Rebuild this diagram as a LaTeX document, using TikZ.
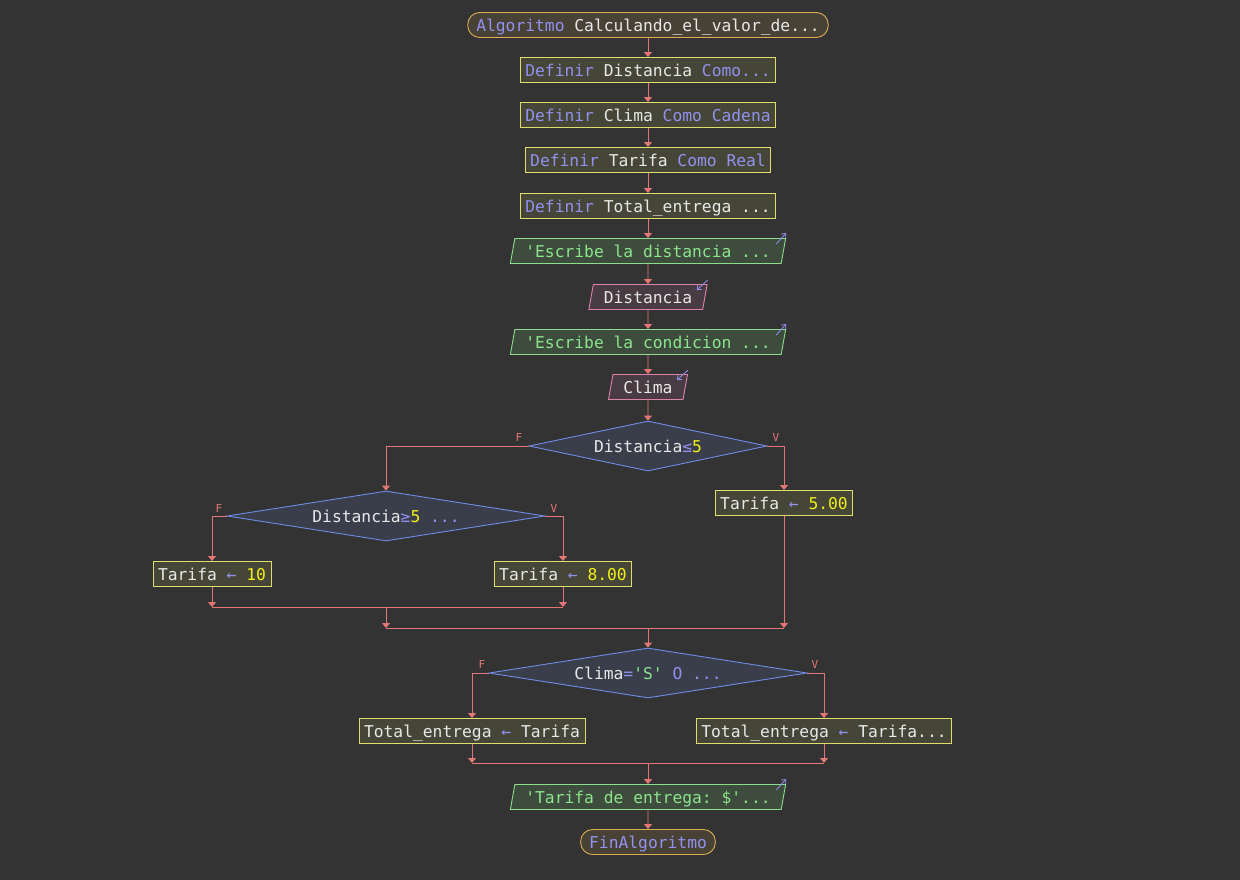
\documentclass[tikz,border=0pt]{standalone}
\usepackage{fontspec}
\setmonofont{DejaVu Sans Mono}
\usetikzlibrary{shapes.geometric,arrows.meta}

\definecolor{bgcol}{RGB}{51,51,51}
\definecolor{kwcol}{RGB}{145,145,240}
\definecolor{txtcol}{RGB}{232,232,232}
\definecolor{numcol}{RGB}{240,240,20}
\definecolor{strcol}{RGB}{140,228,140}
\definecolor{linecol}{RGB}{228,118,118}
\definecolor{procline}{RGB}{222,222,110}
\definecolor{procfill}{RGB}{70,70,56}
\definecolor{termline}{RGB}{222,172,84}
\definecolor{termfill}{RGB}{72,66,54}
\definecolor{decline}{RGB}{110,140,232}
\definecolor{decfill}{RGB}{58,62,74}
\definecolor{outline}{RGB}{140,222,140}
\definecolor{outfill}{RGB}{62,76,62}
\definecolor{inline}{RGB}{222,130,172}
\definecolor{infill}{RGB}{72,60,66}

\newcommand{\kw}[1]{\textcolor{kwcol}{#1}}
\newcommand{\num}[1]{\textcolor{numcol}{#1}}
\newcommand{\str}[1]{\textcolor{strcol}{#1}}

\tikzset{
  base/.style={line width=0.9pt, minimum height=25pt, text height=13pt, text depth=0pt},
  term/.style={base, draw=termline, fill=termfill, rounded corners=12pt, inner xsep=8.5pt, inner ysep=0pt},
  proc/.style={base, draw=procline, fill=procfill, inner xsep=5pt, inner ysep=0pt},
  outp/.style={base, trapezium, trapezium left angle=71, trapezium right angle=109,
    trapezium stretches=true, draw=outline, fill=outfill, inner xsep=10.5pt, inner ysep=0pt},
  inp/.style={outp, draw=inline, fill=infill},
  dec/.style={diamond, draw=decline, fill=decfill, line width=0.9pt, inner sep=0pt,
    shape aspect=6, minimum height=50pt},
  flow/.style={draw=linecol, line width=0.9pt, -{Triangle[width=8pt,length=5pt]}},
  mergeline/.style={draw=linecol, line width=0.9pt},
  lbl/.style={text=linecol, font=\ttfamily\fontsize{11}{13}\selectfont, inner sep=0pt},
  iconout/.style={draw=kwcol, line width=0.8pt, -{Straight Barb[length=3.5pt,width=6pt]}},
}

\begin{document}
\begin{tikzpicture}[x=1pt, y=-1pt, text=txtcol, font=\ttfamily\fontsize{16.3}{19}\selectfont]
  \fill[bgcol] (0,0) rectangle (1240,880);

  % header and definitions
  \node[term] (start) at (648,25) {\kw{Algoritmo} Calculando\_el\_valor\_de...};
  \node[proc] (def1) at (648,70) {\kw{Definir} Distancia \kw{Como...}};
  \node[proc] (def2) at (648,115) {\kw{Definir} Clima \kw{Como Cadena}};
  \node[proc] (def3) at (648,160) {\kw{Definir} Tarifa \kw{Como Real}};
  \node[proc] (def4) at (648,206) {\kw{Definir} Total\_entrega ...};

  % reading
  \node[outp] (out1) at (648,251) {\str{\textquotesingle Escribe la distancia ...}};
  \node[inp] (in1) at (648,297) {Distancia};
  \node[outp] (out2) at (648,342) {\str{\textquotesingle Escribe la condicion ...}};
  \node[inp] (in2) at (648,387) {Clima};

  % decisions
  \node[dec, minimum width=238pt] (dec1) at (648,446) {Distancia\kw{≤}\num{5}};
  \node[proc] (t5) at (784,503) {Tarifa \kw{←} \num{5.00}};
  \node[dec, minimum width=318pt] (dec2) at (386,516) {Distancia\kw{≥}\num{5} \kw{...}};
  \node[proc] (t10) at (212,574) {Tarifa \kw{←} \num{10}};
  \node[proc] (t8) at (563,574) {Tarifa \kw{←} \num{8.00}};
  \node[dec, minimum width=318pt] (dec3) at (648,673) {Clima\kw{=}\str{\textquotesingle S\textquotesingle} \kw{O ...}};
  \node[proc] (te1) at (472,731) {Total\_entrega \kw{←} Tarifa};
  \node[proc] (te2) at (824,731) {Total\_entrega \kw{←} Tarifa...};

  % end
  \node[outp] (out3) at (648,797) {\str{\textquotesingle Tarifa de entrega: \$\textquotesingle...}};
  \node[term] (fin) at (648,842) {\kw{FinAlgoritmo}};

  \node[lbl] (f1) at (519,437) {F};
  \node[lbl] (v1) at (776,437) {V};
  \node[lbl] (f2) at (219,508) {F};
  \node[lbl] (v2) at (554,508) {V};
  \node[lbl] (f3) at (482,664) {F};
  \node[lbl] (v3) at (815,664) {V};

  \coordinate (m1) at (386,607);
  \coordinate (m2) at (648,628);
  \coordinate (m3) at (648,763);

  % straight flow
  \draw[flow] (start) -- (def1);
  \draw[flow] (def1) -- (def2);
  \draw[flow] (def2) -- (def3);
  \draw[flow] (def3) -- (def4);
  \draw[flow] (def4) -- (out1);
  \draw[flow] (out1) -- (in1);
  \draw[flow] (in1) -- (out2);
  \draw[flow] (out2) -- (in2);
  \draw[flow] (in2) -- (dec1);

  % branches
  \draw[flow] (dec1.west) -| (dec2.north);
  \draw[flow] (dec1.east) -| (t5.north);
  \draw[flow] (dec2.west) -| (t10.north);
  \draw[flow] (dec2.east) -| (t8.north);
  \draw[flow] (t10.south) -- (t10.south |- m1);
  \draw[flow] (t8.south) -- (t8.south |- m1);
  \draw[mergeline] (t10.south |- m1) -- (t8.south |- m1);
  \draw[flow] (m1) -- (m1 |- m2);
  \draw[flow] (t5.south) -- (t5.south |- m2);
  \draw[mergeline] (m1 |- m2) -- (t5.south |- m2);
  \draw[flow] (m2) -- (dec3.north);

  \draw[flow] (dec3.west) -| (te1.north);
  \draw[flow] (dec3.east) -| (te2.north);
  \draw[flow] (te1.south) -- (te1.south |- m3);
  \draw[flow] (te2.south) -- (te2.south |- m3);
  \draw[mergeline] (te1.south |- m3) -- (te2.south |- m3);
  \draw[flow] (m3) -- (out3);
  \draw[flow] (out3) -- (fin);

  % io marks
  \foreach \n in {out1,out2,out3}
    \draw[iconout] ([xshift=-10pt,yshift=-6pt]\n.top right corner) -- ([yshift=5pt]\n.top right corner);
  \foreach \n in {in1,in2}
    \draw[iconout] ([yshift=4pt]\n.top right corner) -- ([xshift=-11pt,yshift=-6pt]\n.top right corner);
\end{tikzpicture}
\end{document}
